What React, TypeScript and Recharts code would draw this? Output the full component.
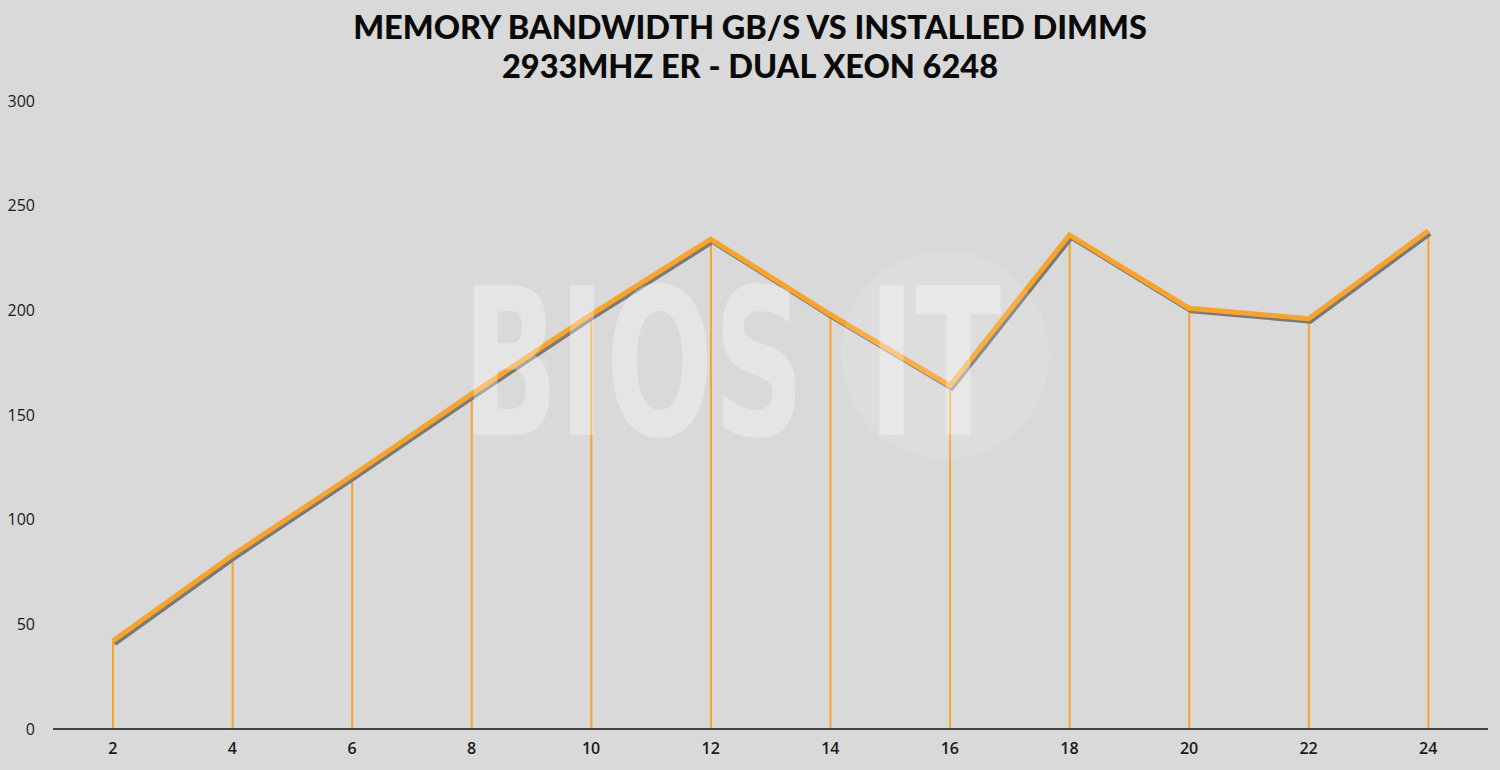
import React from "react";
import {
  ComposedChart,
  Line,
  Bar,
  XAxis,
  YAxis,
} from "recharts";

const dimms = ["2", "4", "6", "8", "10", "12", "14", "16", "18", "20", "22", "24"];
const bandwidth = [42, 83, 121, 160, 198, 234, 198, 164, 236, 201, 196, 238];
const yTicks = [0, 50, 100, 150, 200, 250, 300];

const titleLines = [
  "MEMORY BANDWIDTH GB/S VS INSTALLED DIMMS",
  "2933MHZ ER - DUAL XEON 6248",
];

const ORANGE = "#f7a32c";
const SHADOW = "#7a7a7a";
const BG = "#d9d9d9";

const chartData = dimms.map((d, i) => ({ dimms: d, bw: bandwidth[i] }));

export default function App() {
  return (
    <div
      style={{
        position: "relative",
        width: 1500,
        height: 770,
        background: BG,
        fontFamily: "'Open Sans', sans-serif",
      }}
    >
      <style>{`
        body { margin: 0; }
        .shadow-line path { transform: translate(2px, 3px); }
      `}</style>
      <div
        style={{
          position: "absolute",
          top: 7,
          left: 0,
          width: 1500,
          textAlign: "center",
          fontFamily: "Lato, sans-serif",
          fontWeight: 900,
          fontSize: 32.5,
          lineHeight: "39px",
          color: "#0a0a0a",
        }}
      >
        {titleLines.map((t) => (
          <div key={t}>{t}</div>
        ))}
      </div>
      <ComposedChart
        width={1500}
        height={770}
        data={chartData}
        margin={{ top: 101, right: 12, bottom: 11, left: 0 }}
        style={{ position: "absolute", top: 0, left: 0 }}
      >
        <XAxis
          dataKey="dimms"
          height={30}
          axisLine={{ stroke: "#111", strokeWidth: 1.5 }}
          tickLine={false}
          tickSize={0}
          tickMargin={14}
          tick={{ fill: "#1a1a1a", fontSize: 16, fontWeight: 600 }}
        />
        <YAxis
          width={53}
          domain={[0, 300]}
          ticks={yTicks}
          axisLine={false}
          tickLine={false}
          tickSize={0}
          tickMargin={18}
          tick={{ fill: "#1a1a1a", fontSize: 16 }}
        />
        <Bar dataKey="bw" fill={ORANGE} barSize={2} isAnimationActive={false} />
        <Line
          className="shadow-line"
          dataKey="bw"
          stroke={SHADOW}
          strokeWidth={4}
          dot={false}
          type="linear"
          isAnimationActive={false}
        />
        <Line
          dataKey="bw"
          stroke={ORANGE}
          strokeWidth={5}
          dot={false}
          type="linear"
          strokeLinejoin="miter"
          isAnimationActive={false}
        />
      </ComposedChart>
      <svg
        width={1500}
        height={770}
        style={{ position: "absolute", top: 0, left: 0, pointerEvents: "none" }}
      >
        <circle cx={945} cy={355} r={104} fill="#ffffff" fillOpacity={0.12} />
        <text
          transform="translate(462,435) scale(0.687,1)"
          fontFamily="'DejaVu Sans Condensed', 'DejaVu Sans', sans-serif"
          fontWeight={700}
          fontSize={205}
          fill="#ffffff"
          fillOpacity={0.33}
        >
          <tspan x={0}>BIOS</tspan>
          <tspan x={591}>IT</tspan>
        </text>
      </svg>
    </div>
  );
}
